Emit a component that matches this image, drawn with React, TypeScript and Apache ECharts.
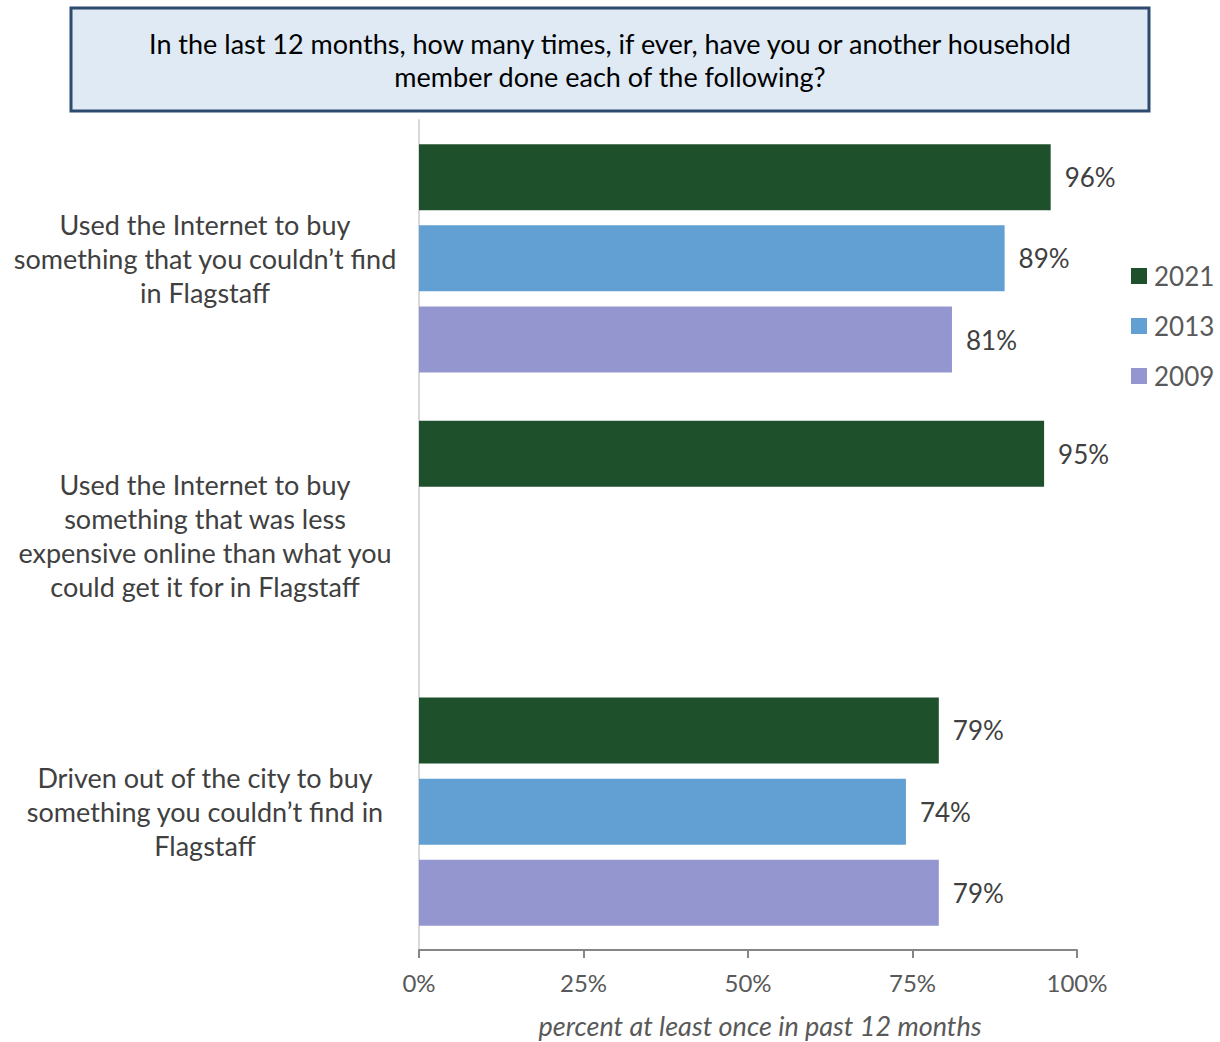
import React, { useEffect, useRef } from "react";
import * as echarts from "echarts";

const categories = [
  "Used the Internet to buy\nsomething that you couldn\u2019t find\nin Flagstaff",
  "Used the Internet to buy\nsomething that was less\nexpensive online than what you\ncould get it for in Flagstaff",
  "Driven out of the city to buy\nsomething you couldn\u2019t find in\nFlagstaff",
];
const seriesNames = ["2021", "2013", "2009"];
const values2021 = [96, 95, 79];
const values2013 = [89, null, 74];
const values2009 = [81, null, 79];
const xTicks = [0, 25, 50, 75, 100];
const titleLines = [
  "In the last 12 months, how many times, if ever, have you or another household",
  "member done each of the following?",
];
const axisName = "percent at least once in past 12 months";

const colors = ["#1F502C", "#629FD2", "#9497CF"];
const FONT = "Lato, 'Open Sans', sans-serif";

export default function App() {
  const ref = useRef<HTMLDivElement>(null);
  useEffect(() => {
    document.body.style.margin = "0";
    const chart = echarts.init(ref.current!, null, { renderer: "svg" });
    const data = [values2021, values2013, values2009];
    chart.setOption({
      animation: false,
      textStyle: { fontFamily: FONT },
      graphic: [
        {
          type: "rect",
          shape: { x: 71, y: 8, width: 1078, height: 103 },
          style: { fill: "#DFEAF5", stroke: "#2C4B6E", lineWidth: 3 },
        },
        {
          type: "text",
          x: 610,
          y: 60,
          style: {
            text: titleLines.join("\n"),
            fontFamily: FONT,
            fontSize: 27,
            lineHeight: 33,
            fill: "#000",
            align: "center",
            verticalAlign: "middle",
          },
        },
      ],
      legend: {
        orient: "vertical",
        left: 1131,
        top: 263,
        padding: 0,
        itemWidth: 16,
        itemHeight: 16,
        itemGap: 24,
        icon: "rect",
        data: seriesNames,
        textStyle: { fontSize: 26, color: "#595959", fontFamily: FONT, padding: [0, 0, 0, 2] },
      },
      grid: {
        left: 419,
        right: 143,
        top: 120,
        bottom: 92,
        containLabel: false,
        outerBoundsMode: "none",
      },
      xAxis: {
        type: "value",
        min: 0,
        max: 100,
        interval: 25,
        name: axisName,
        nameLocation: "middle",
        nameGap: 62,
        nameTextStyle: {
          fontSize: 27,
          fontStyle: "italic",
          color: "#595959",
          fontFamily: FONT,
          padding: [0, 0, 0, 24],
        },
        axisLine: { show: true, lineStyle: { color: "#868686", width: 2 } },
        axisTick: { show: true, length: 8, lineStyle: { color: "#868686", width: 2 } },
        splitLine: { show: false },
        axisLabel: {
          fontSize: 24,
          color: "#595959",
          margin: 20,
          fontFamily: FONT,
          formatter: (v: number) => (xTicks.includes(v) ? v + "%" : ""),
        },
      },
      yAxis: {
        type: "category",
        inverse: true,
        data: categories,
        axisLine: { show: true, lineStyle: { color: "#D9D9D9", width: 2 } },
        axisTick: { show: false },
        axisLabel: {
          fontSize: 27,
          lineHeight: 34,
          color: "#404040",
          align: "center",
          margin: 214,
          fontFamily: FONT,
        },
      },
      series: seriesNames.map((name, i) => ({
        name,
        type: "bar",
        data: data[i],
        barWidth: 66,
        barGap: "23%",
        itemStyle: { color: colors[i] },
        label: {
          show: true,
          position: "right",
          distance: 14,
          fontSize: 26,
          color: "#404040",
          fontFamily: FONT,
          formatter: (p: any) => (p.value == null ? "" : p.value + "%"),
        },
      })),
    });
    return () => chart.dispose();
  }, []);
  return <div ref={ref} style={{ width: 1220, height: 1042 }} />;
}
